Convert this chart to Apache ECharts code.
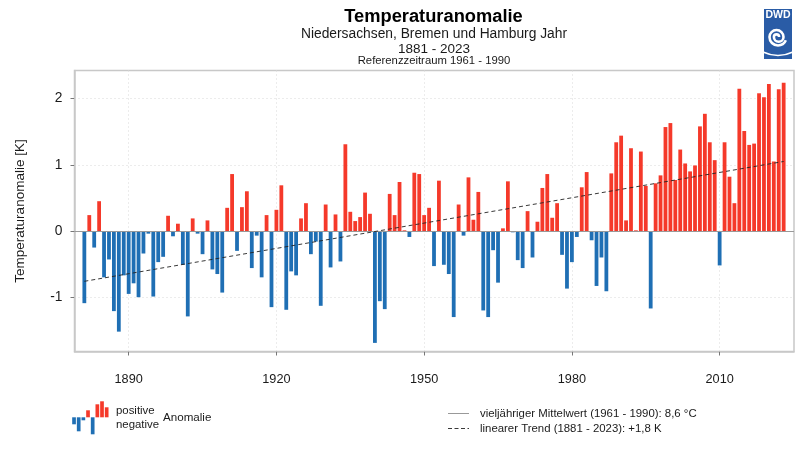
<!DOCTYPE html>
<html>
<head>
<meta charset="utf-8">
<style>html,body{margin:0;padding:0;background:#fff}#c{width:810px;height:450px}</style>
<script src="https://cdn.jsdelivr.net/npm/echarts@6/dist/echarts.min.js"></script>
</head>
<body>
<div id="c"></div>
<script>
const firstYear = 1881;
const anomalies = [
 -1.09,0.24,-0.25,0.45,-0.70,-0.43,-1.21,-1.52,-0.67,-0.95,
 -0.79,-1.00,-0.34,-0.04,-0.99,-0.47,-0.39,0.23,-0.08,0.11,
 -0.51,-1.29,0.19,-0.04,-0.35,0.16,-0.58,-0.65,-0.93,0.35,
 0.86,-0.30,0.36,0.60,-0.56,-0.07,-0.70,0.24,-1.15,0.32,
 0.69,-1.19,-0.61,-0.67,0.19,0.42,-0.35,-0.16,-1.13,0.40,
 -0.55,0.25,-0.46,1.31,0.29,0.15,0.21,0.58,0.26,-1.69,
 -1.06,-1.18,0.56,0.24,0.74,0.01,-0.09,0.88,0.86,0.24,
 0.35,-0.53,0.76,-0.51,-0.65,-1.30,0.40,-0.07,0.81,0.17,
 0.59,-1.20,-1.30,-0.29,-0.78,0.04,0.75,-0.02,-0.44,-0.56,
 0.30,-0.40,0.14,0.65,0.86,0.20,0.42,-0.36,-0.87,-0.47,
 -0.09,0.66,0.89,-0.14,-0.83,-0.40,-0.91,0.87,1.34,1.44,
 0.16,1.25,0.01,1.20,0.68,-1.17,0.72,0.84,1.57,1.63,
 0.77,1.23,1.02,0.90,0.99,1.58,1.77,1.34,1.07,-0.52,
 1.34,0.82,0.42,2.15,1.51,1.30,1.32,2.08,2.02,2.22,
 1.05,2.14,2.24
];
const trendPoints = [[1881,-0.76],[2023,1.05]];
const xTicks = [1890,1920,1950,1980,2010];
const yTicks = [-1,0,1,2];
const legendBars = [-7,-14,-3,7,-17,13,16,10];
const legendSlots = ['a','b','c','d','e','f','g','h'];
const titleLines = ['Temperaturanomalie','Niedersachsen, Bremen und Hamburg Jahr','1881 - 2023','Referenzzeitraum 1961 - 1990'];
const RED = '#f5392a', BLUE = '#1f6fb4', FONT = '"Liberation Sans", Arial, sans-serif', INK = '#1a1a1a';

const colorOf = v => v >= 0 ? RED : BLUE;
const barData = anomalies.map((v,i)=>({value:[firstYear+i,v],itemStyle:{color:colorOf(v)}}));
const gridMark = {lineStyle:{color:'#d9d9d9',type:[1,3],width:1}};
const spiralStroke = {stroke:'#fff',fill:'none',lineWidth:2.6};
const boxLine = {show:true,onZero:false,lineStyle:{color:'#c8c8c8',width:1.5}};

const chart = echarts.init(document.getElementById('c'),null,{renderer:'canvas'});
chart.setOption({
 animation:false,
 backgroundColor:'#fff',
 textStyle:{fontFamily:FONT},
 title:[
  {text:titleLines[0],left:428.5,top:3,textAlign:'center',textStyle:{fontFamily:FONT,fontSize:18.3,fontWeight:'bold',color:'#000'}},
  {text:titleLines[1],left:429,top:22,textAlign:'center',textStyle:{fontFamily:FONT,fontSize:13.8,fontWeight:'normal',color:INK}},
  {text:titleLines[2],left:429,top:37,textAlign:'center',textStyle:{fontFamily:FONT,fontSize:13.5,fontWeight:'normal',color:INK}},
  {text:titleLines[3],left:429,top:50,textAlign:'center',textStyle:{fontFamily:FONT,fontSize:11.3,fontWeight:'normal',color:INK}}
 ],
 grid:[
  {left:74.5,top:70.5,width:719.5,height:281,show:true,borderColor:'#c8c8c8',borderWidth:1.5,backgroundColor:'transparent'},
  {left:71.7,top:400.3,width:37.3,height:34}
 ],
 xAxis:[
  {type:'value',gridIndex:0,min:1879,max:2025.1,splitLine:{show:false},axisLine:boxLine,
   axisTick:{show:true,length:4,customValues:xTicks,lineStyle:{color:'#777',width:1}},
   axisLabel:{customValues:xTicks,formatter:v=>String(v),fontSize:12.7,color:INK,margin:21,fontFamily:FONT}},
  {type:'category',gridIndex:1,data:legendSlots,show:false}
 ],
 yAxis:[
  {type:'value',gridIndex:0,min:-1.82,max:2.424,name:'Temperaturanomalie [K]',nameLocation:'middle',nameGap:47,nameRotate:90,
   nameTextStyle:{fontSize:13.5,color:INK,fontFamily:FONT},
   splitLine:{show:false},axisLine:boxLine,
   axisTick:{show:true,length:4,customValues:yTicks,lineStyle:{color:'#777',width:1}},
   axisLabel:{customValues:yTicks,formatter:v=>String(v),fontSize:13.8,color:INK,margin:12,padding:[3,0,0,0],fontFamily:FONT}},
  {type:'value',gridIndex:1,min:-17,max:17,show:false}
 ],
 series:[
  {type:'line',xAxisIndex:0,yAxisIndex:0,data:[],z:1,silent:true,
   markLine:{z:1,silent:true,symbol:'none',label:{show:false},animation:false,lineStyle:gridMark.lineStyle,
    data:xTicks.map(x=>({xAxis:x})).concat(yTicks.filter(y=>y!==0).map(y=>({yAxis:y})))}},
  {type:'line',xAxisIndex:0,yAxisIndex:0,data:[],z:3,silent:true,
   markLine:{z:3,silent:true,symbol:'none',label:{show:false},animation:false,lineStyle:{color:'#999',type:'solid',width:1},data:[{yAxis:0}]}},
  {type:'bar',xAxisIndex:0,yAxisIndex:0,data:barData,barWidth:3.8,z:2,silent:true},
  {type:'line',xAxisIndex:0,yAxisIndex:0,data:trendPoints,showSymbol:false,z:4,silent:true,
   lineStyle:{color:'#222',type:[4,3],width:0.9}},
  {type:'bar',xAxisIndex:1,yAxisIndex:1,barWidth:3.7,silent:true,
   data:legendBars.map(v=>({value:v,itemStyle:{color:colorOf(v)}}))}
 ],
 graphic:[
  {type:'text',left:116,top:405,style:{text:'positive',font:'11.4px '+FONT,fill:INK}},
  {type:'text',left:116,top:419,style:{text:'negative',font:'11.4px '+FONT,fill:INK}},
  {type:'text',left:163,top:412,style:{text:'Anomalie',font:'11.6px '+FONT,fill:INK}},
  {type:'line',shape:{x1:448,y1:413.5,x2:469,y2:413.5},style:{stroke:'#999',lineWidth:1}},
  {type:'line',shape:{x1:448,y1:428.5,x2:469,y2:428.5},style:{stroke:'#222',lineWidth:0.9,lineDash:[4,2.5]}},
  {type:'text',left:480,top:408,style:{text:'vieljähriger Mittelwert (1961 - 1990): 8,6 °C',font:'11.4px '+FONT,fill:INK}},
  {type:'text',left:480,top:423,style:{text:'linearer Trend (1881 - 2023): +1,8 K',font:'11.4px '+FONT,fill:INK}},
  {type:'rect',shape:{x:764,y:9,width:28,height:50},style:{fill:'#2a5ca6'},z:10},
  {type:'text',x:778,y:10,style:{text:'DWD',font:'bold 10.5px '+FONT,fill:'#fff',textAlign:'center',textVerticalAlign:'top'},z:11},
  {type:'arc',shape:{cx:776.5,cy:37,r:2.6,startAngle:0,endAngle:Math.PI,clockwise:false},style:spiralStroke,z:11},
  {type:'arc',shape:{cx:778.7,cy:37,r:4.8,startAngle:Math.PI,endAngle:0,clockwise:false},style:spiralStroke,z:11},
  {type:'arc',shape:{cx:776.5,cy:37,r:7,startAngle:0,endAngle:Math.PI,clockwise:false},style:spiralStroke,z:11},
  {type:'arc',shape:{cx:778,cy:37,r:8.5,startAngle:Math.PI,endAngle:0.4,clockwise:false},style:spiralStroke,z:11},
  {type:'bezierCurve',shape:{x1:763,y1:52,x2:793,y2:52,cpx1:778,cpy1:59},style:{stroke:'#fff',fill:'none',lineWidth:1.4},z:12}
 ]
});
</script>
</body>
</html>
